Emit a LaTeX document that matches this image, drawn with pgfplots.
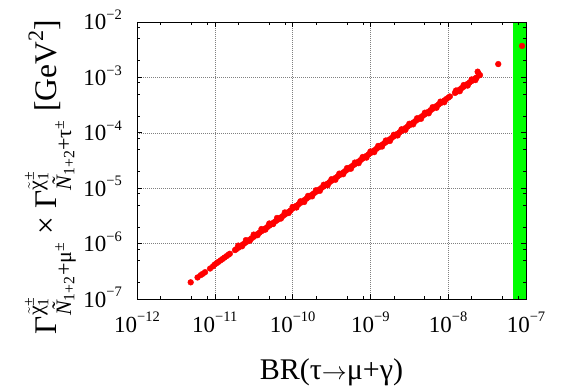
\documentclass[border=0pt]{standalone}
\usepackage{amsmath}
\usepackage{fontspec}
\setmainfont{Liberation Serif}
\usepackage{pgfplots}
\pgfplotsset{compat=1.18}
\pgfplotsset{
  /pgfplots/layers/mylayers/.define layer set={axis background,axis grid,main,axis ticks,axis lines,axis tick labels,axis descriptions,axis foreground}{/pgfplots/layers/standard},
}
\definecolor{bandgreen}{RGB}{0,255,0}
\definecolor{ptred}{RGB}{255,0,0}
\newcommand{\tsup}[1]{\raisebox{0.45em}{\fontsize{14.5}{14.5}\selectfont #1}}
\pgfplotstableread{
x y
4.9e-12 2.0e-7
6.0e-12 2.45e-7
6.6e-12 2.7e-7
7.0e-12 2.85e-7
7.5e-12 3.05e-7
8.7e-12 3.55e-7
9.5e-12 3.9e-7
1.00e-11 4.20e-7
1.06e-11 4.45e-7
1.12e-11 4.70e-7
1.19e-11 5.00e-7
1.26e-11 5.29e-7
1.33e-11 5.59e-7
1.41e-11 5.92e-7
1.50e-11 6.30e-7
1.56e-11 6.55e-7
1.82e-11 7.64e-7
1.88e-11 7.90e-7
2.00e-11 8.40e-7
2.11e-11 8.86e-7
2.24e-11 9.41e-7
2.37e-11 9.95e-7
2.51e-11 1.054e-6
2.66e-11 1.117e-6
2.82e-11 1.184e-6
2.99e-11 1.256e-6
3.16e-11 1.327e-6
3.35e-11 1.407e-6
3.55e-11 1.491e-6
3.76e-11 1.579e-6
3.98e-11 1.672e-6
4.22e-11 1.772e-6
4.47e-11 1.877e-6
4.73e-11 1.987e-6
5.01e-11 2.104e-6
5.31e-11 2.230e-6
5.62e-11 2.360e-6
5.96e-11 2.503e-6
6.31e-11 2.650e-6
6.68e-11 2.806e-6
7.08e-11 2.974e-6
7.50e-11 3.150e-6
7.94e-11 3.335e-6
8.41e-11 3.532e-6
8.91e-11 3.742e-6
9.44e-11 3.965e-6
1.00e-10 4.30e-6
1.06e-10 4.56e-6
1.12e-10 4.82e-6
1.19e-10 5.12e-6
1.26e-10 5.42e-6
1.33e-10 5.72e-6
1.41e-10 6.06e-6
1.50e-10 6.45e-6
1.58e-10 6.79e-6
1.68e-10 7.22e-6
1.78e-10 7.65e-6
1.88e-10 8.08e-6
2.00e-10 8.60e-6
2.11e-10 9.07e-6
2.24e-10 9.63e-6
2.37e-10 1.019e-5
2.51e-10 1.079e-5
2.66e-10 1.144e-5
2.82e-10 1.213e-5
2.99e-10 1.286e-5
3.16e-10 1.359e-5
3.35e-10 1.441e-5
3.55e-10 1.527e-5
3.76e-10 1.617e-5
3.98e-10 1.711e-5
4.22e-10 1.815e-5
4.47e-10 1.922e-5
4.73e-10 2.034e-5
5.01e-10 2.154e-5
5.31e-10 2.283e-5
5.62e-10 2.417e-5
5.96e-10 2.563e-5
6.31e-10 2.713e-5
6.68e-10 2.872e-5
7.08e-10 3.044e-5
7.50e-10 3.225e-5
7.94e-10 3.414e-5
8.41e-10 3.616e-5
8.91e-10 3.831e-5
9.44e-10 4.059e-5
1.00e-9 4.30e-5
1.06e-9 4.56e-5
1.12e-9 4.82e-5
1.19e-9 5.12e-5
1.26e-9 5.42e-5
1.33e-9 5.72e-5
1.41e-9 6.06e-5
1.50e-9 6.45e-5
1.58e-9 6.79e-5
1.68e-9 7.22e-5
1.78e-9 7.65e-5
1.88e-9 8.08e-5
2.00e-9 8.60e-5
2.11e-9 9.07e-5
2.24e-9 9.63e-5
2.37e-9 1.019e-4
2.51e-9 1.079e-4
2.66e-9 1.144e-4
2.82e-9 1.213e-4
2.99e-9 1.286e-4
3.16e-9 1.359e-4
3.35e-9 1.441e-4
3.55e-9 1.527e-4
3.76e-9 1.617e-4
3.98e-9 1.711e-4
4.22e-9 1.815e-4
4.47e-9 1.922e-4
4.73e-9 2.034e-4
5.01e-9 2.154e-4
5.31e-9 2.283e-4
5.62e-9 2.417e-4
5.96e-9 2.563e-4
6.31e-9 2.713e-4
6.68e-9 2.872e-4
7.08e-9 3.044e-4
7.50e-9 3.225e-4
7.94e-9 3.414e-4
8.41e-9 3.616e-4
8.91e-9 3.831e-4
9.44e-9 4.059e-4
1.00e-8 4.30e-4
1.05e-8 4.52e-4
1.22e-8 5.25e-4
1.26e-8 5.42e-4
1.33e-8 5.72e-4
1.41e-8 6.06e-4
1.50e-8 6.45e-4
1.58e-8 6.79e-4
1.68e-8 7.22e-4
1.78e-8 7.65e-4
1.88e-8 8.08e-4
2.00e-8 8.60e-4
2.11e-8 9.07e-4
2.24e-8 9.63e-4
2.32e-8 9.90e-4
2.39e-8 1.27e-3
2.45e-8 1.18e-3
2.56e-8 1.10e-3
4.4e-8 1.74e-3
8.9e-8 3.7e-3
2.00e-11 9.20e-7
2.51e-11 1.155e-6
3.16e-11 1.454e-6
3.98e-11 1.831e-6
5.01e-11 2.305e-6
6.31e-11 2.903e-6
7.94e-11 3.652e-6
1.00e-10 4.60e-6
1.26e-10 5.80e-6
1.58e-10 7.27e-6
2.00e-10 9.20e-6
2.51e-10 1.155e-5
3.16e-10 1.454e-5
3.98e-10 1.831e-5
5.01e-10 2.305e-5
6.31e-10 2.903e-5
7.94e-10 3.652e-5
1.00e-9 4.60e-5
1.26e-9 5.80e-5
1.58e-9 7.27e-5
2.00e-9 9.20e-5
2.51e-9 1.155e-4
3.16e-9 1.454e-4
3.98e-9 1.831e-4
5.01e-9 2.305e-4
6.31e-9 2.903e-4
7.94e-9 3.652e-4
1.26e-8 5.80e-4
1.58e-8 7.27e-4
2.00e-8 9.20e-4
2.24e-11 8.96e-7
2.82e-11 1.128e-6
3.55e-11 1.420e-6
4.47e-11 1.788e-6
5.62e-11 2.248e-6
7.08e-11 2.832e-6
8.91e-11 3.564e-6
1.12e-10 4.48e-6
1.41e-10 5.64e-6
1.78e-10 7.12e-6
2.24e-10 8.96e-6
2.82e-10 1.128e-5
3.55e-10 1.420e-5
4.47e-10 1.788e-5
5.62e-10 2.248e-5
7.08e-10 2.832e-5
8.91e-10 3.564e-5
1.12e-9 4.48e-5
1.41e-9 5.64e-5
1.78e-9 7.12e-5
2.24e-9 8.96e-5
2.82e-9 1.128e-4
3.55e-9 1.420e-4
4.47e-9 1.788e-4
5.62e-9 2.248e-4
7.08e-9 2.832e-4
8.91e-9 3.564e-4
1.41e-8 5.64e-4
1.78e-8 7.12e-4
2.24e-8 8.96e-4
}\pts
\begin{document}
\begin{tikzpicture}
\begin{axis}[
  set layers=mylayers,
  at={(137pt,90pt)}, anchor=south west,
  scale only axis, width=389pt, height=277pt,
  xmode=log, ymode=log,
  xmin=1e-12, xmax=1e-7, ymin=1e-7, ymax=1e-2,
  xtick={1e-12,1e-11,1e-10,1e-9,1e-8,1e-7},
  xticklabels={10\tsup{−12},10\tsup{−11},10\tsup{−10},10\tsup{−9},10\tsup{−8},10\tsup{−7}},
  ytick={1e-7,1e-6,1e-5,1e-4,1e-3,1e-2},
  yticklabels={10\tsup{−7},10\tsup{−6},10\tsup{−5},10\tsup{−4},10\tsup{−3},10\tsup{−2}},
  minor xtick={2e-12,5e-12,8e-12,2e-11,5e-11,8e-11,2e-10,5e-10,8e-10,2e-9,5e-9,8e-9,2e-8,5e-8,8e-8},
  minor ytick={2e-7,5e-7,8e-7,2e-6,5e-6,8e-6,2e-5,5e-5,8e-5,2e-4,5e-4,8e-4,2e-3,5e-3,8e-3},
  xmajorgrids=true, ymajorgrids=true,
  major grid style={gray, line width=0.5pt, dash pattern=on 0.8pt off 1.2pt},
  axis line style={line width=0.8pt},
  major tick length=5pt, minor tick length=3pt,
  every tick/.style={black, line width=0.6pt},
  tick align=inside,
  xticklabel style={font=\fontsize{23}{27}\selectfont, anchor=base, inner sep=0pt, yshift=-33pt},
  yticklabel style={font=\fontsize{23}{27}\selectfont, anchor=base east, inner sep=0pt, xshift=-15pt, yshift=-8pt},
  xlabel={BR(τ${\rightarrow}$μ+γ)},
  xlabel style={font=\fontsize{30}{36}\selectfont, at={(axis description cs:0.5,-0.2924)}, anchor=base},
  ylabel={$\text{Γ}^{\tilde{\text{χ}}_{\text{1}}^{\text{±}}}_{\text{\itshape Ñ}_{\text{1+2}}\text{+μ}^{\text{±}}}\text{ × }\text{Γ}^{\tilde{\text{χ}}_{\text{1}}^{\text{±}}}_{\text{\itshape Ñ}_{\text{1+2}}\text{+τ}^{\text{±}}}\text{ [GeV}^{\text{2}}\text{]}$},
  ylabel style={font=\fontsize{31.5}{38}\selectfont, at={(axis description cs:-0.2057,0.441)}, anchor=base},
]
\addplot[fill=bandgreen, draw=none] coordinates {(6.8e-8,1e-7) (1e-7,1e-7) (1e-7,1e-2) (6.8e-8,1e-2)} -- cycle;
\addplot[only marks, mark=*, mark size=2.9pt, mark options={draw=ptred, fill=ptred}] table[x=x, y=y] {\pts};
\end{axis}
\pgfresetboundingbox
\path[use as bounding box] (0,0) rectangle (563pt,389pt);
\end{tikzpicture}
\end{document}
